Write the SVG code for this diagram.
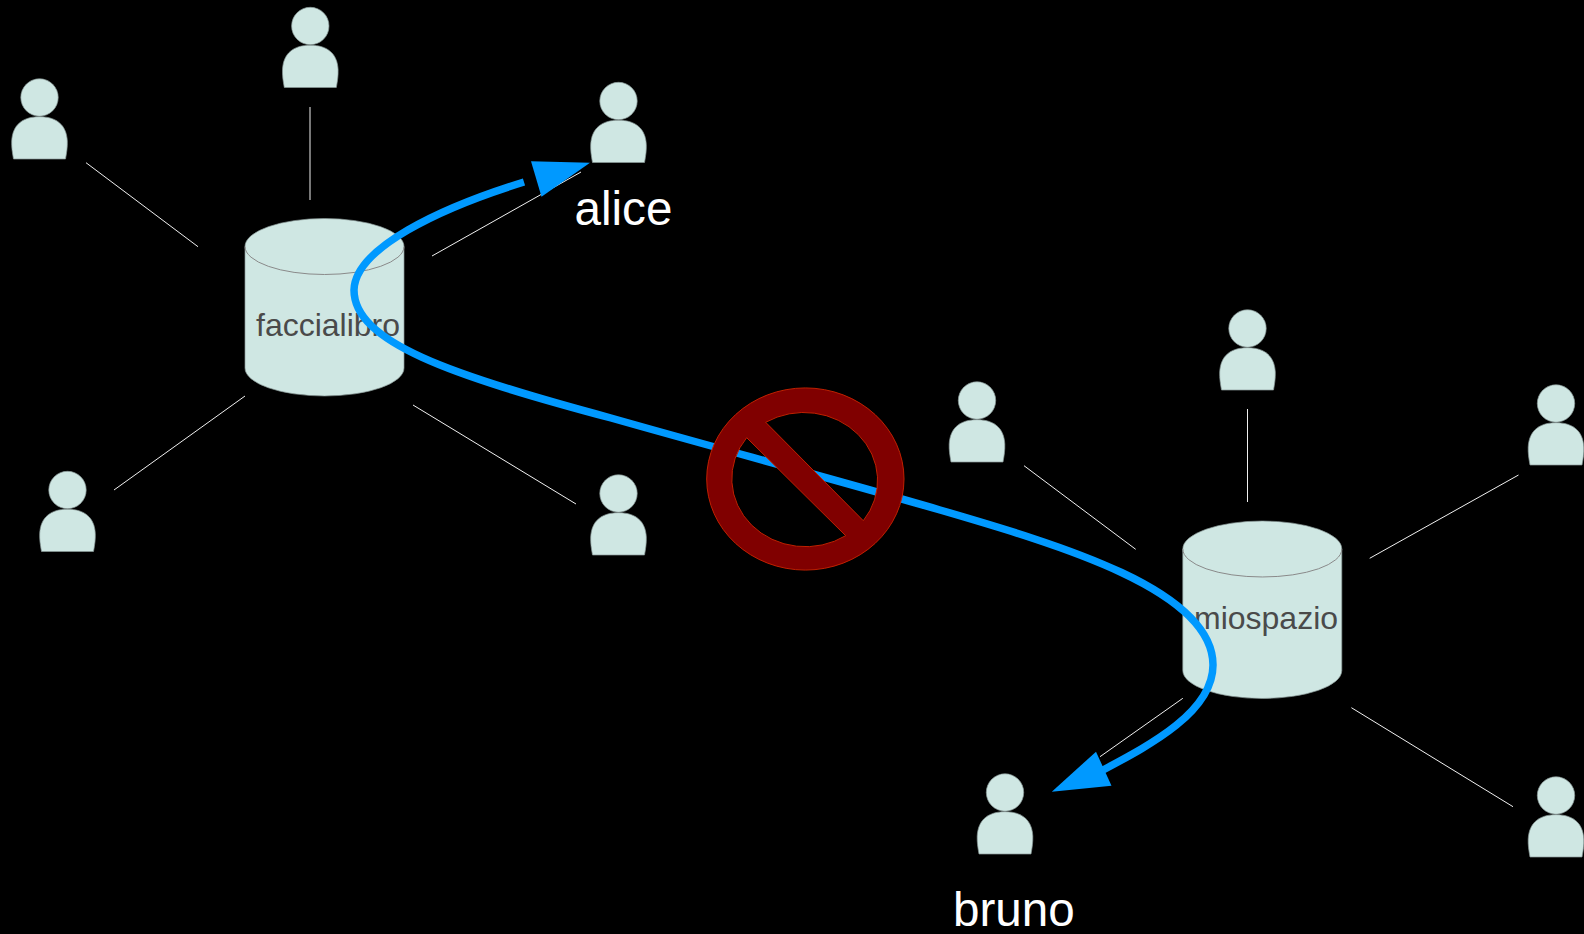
<svg xmlns="http://www.w3.org/2000/svg" width="1584" height="934" viewBox="0 0 1584 934">
<style>
.shape{fill:#cfe7e3;stroke:#8a9a98;stroke-width:.7}
.rim{fill:none;stroke:#8a8a8a;stroke-width:1}
.lnk{stroke:#f0f0f0;stroke-width:1;fill:none}
.flow{stroke:#0099ff;stroke-width:7.5;fill:none}
.head{fill:#0099ff}
.big{font-family:"Liberation Sans",Arial,sans-serif;font-size:47.6px;fill:#fff}
.db{font-family:"Liberation Sans",Arial,sans-serif;font-size:32px;fill:#4a4a4a}
</style>
<defs>
<g id="person">
<ellipse class="shape" cx="0" cy="0.5" rx="18.7" ry="18.7"/>
<path class="shape" d="M-26,62 L26,62 C27.3,55 28,50 27.8,44 C27,28 17,19.7 0,19.7 C-17,19.7 -27,28 -27.8,44 C-28,50 -27.3,55 -26,62 Z"/>
</g>
<path id="cyl" class="shape" d="M0,28 A79.5,28 0 0 1 159,28 L159,149.5 A79.5,28 0 0 1 0,149.5 Z"/>
</defs>
<rect width="1584" height="934" fill="#000"/>
<g id="p1"><use href="#person" x="39.5" y="97"/></g>
<g id="p2"><use href="#person" x="310.3" y="25.5"/></g>
<g id="alice"><use href="#person" x="618.5" y="100.5"/><text class="big" x="574.5" y="225">alice</text></g>
<g id="p4"><use href="#person" x="67.5" y="489.5"/></g>
<g id="p5"><use href="#person" x="618.5" y="493"/></g>
<g id="p6"><use href="#person" x="977" y="400"/></g>
<g id="p7"><use href="#person" x="1247.5" y="328"/></g>
<g id="p8"><use href="#person" x="1556" y="403"/></g>
<g id="bruno"><use href="#person" x="1005" y="792"/><text class="big" x="953" y="926">bruno</text></g>
<g id="p10"><use href="#person" x="1556" y="795"/></g>
<g id="faccialibro"><use href="#cyl" x="245" y="218.5"/><path class="rim" d="M245,246.5 A79.5,28 0 0 0 404,246.5"/><text class="db" x="256" y="336">faccialibro</text></g>
<g id="miospazio"><use href="#cyl" x="1182.8" y="521"/><path class="rim" d="M1182.8,549 A79.5,28 0 0 0 1341.8,549"/><text class="db" x="1194" y="629">miospazio</text></g>
<g id="connectors">
<path class="lnk" d="M86,162.7 198,246.7"/>
<path class="lnk" d="M310,107 310,200"/>
<path class="lnk" d="M432,256 581,172"/>
<path class="lnk" d="M114,490 245,396"/>
<path class="lnk" d="M413,405 576,504"/>
<path class="lnk" d="M1024,465.7 1135.7,549.3"/>
<path class="lnk" d="M1247.5,409 1247.5,502"/>
<path class="lnk" d="M1369.7,558.3 1518.5,475"/>
<path class="lnk" d="M1182.8,698.3 1100,756.7"/>
<path class="lnk" d="M1351.4,707.7 1513,806.7"/>
<path class="flow" d="M524,182 C440,208 355,248 354,290 C354,342 450,375 611,418 C720,449 830,478 940,510 C1060,545 1213,590 1213,665 C1213,712 1150,745 1103,770"/>
<polygon class="head" points="590,162.7 531,161.3 541.5,196.7"/>
<polygon class="head" points="1051.8,791.7 1096,751.7 1111.5,785.7"/>
</g>
<g id="forbidden">
<path fill="#800000" stroke="#c02000" stroke-width="1" fill-rule="evenodd" d="M706.7,479 A98.65,91 0 1 1 904,479 A98.65,91 0 1 1 706.7,479 Z M765.7,422.3 L863.3,520.7 A73.7,68 0 0 0 765.7,422.3 Z M746.7,437.7 A73.7,68 0 0 0 845.7,535.7 Z"/>
</g>
</svg>
